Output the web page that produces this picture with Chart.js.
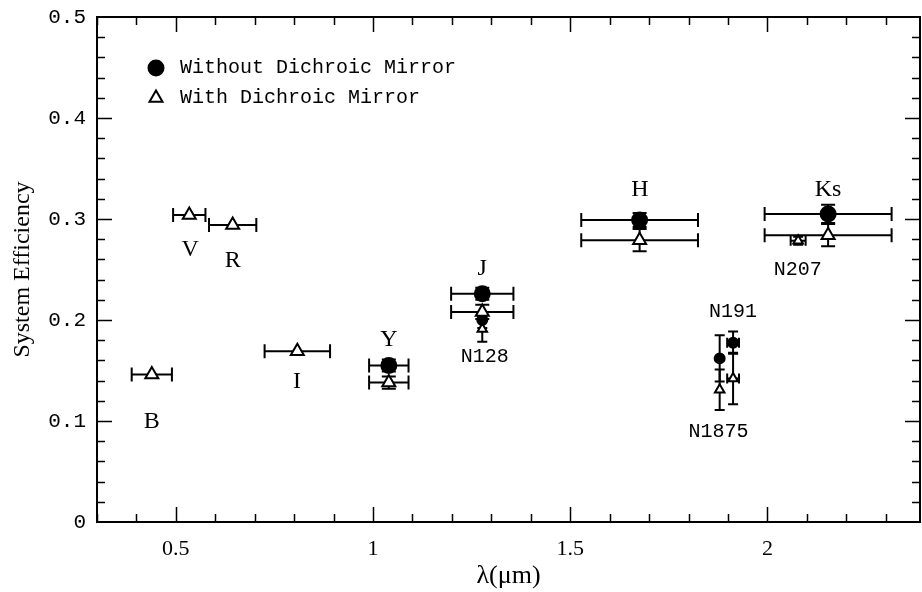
<!DOCTYPE html>
<html>
<head>
<meta charset="utf-8">
<script src="https://cdn.jsdelivr.net/npm/chart.js@4.4.1/dist/chart.umd.min.js"></script>
<style>
  html, body { margin: 0; padding: 0; background: #fff; }
  #wrap { width: 922px; height: 592px; }
</style>
</head>
<body>
<div id="wrap"><canvas id="c"></canvas></div>
<script>
// broad-band filters
const bandNames     = ['B', 'V', 'R', 'I', 'Y', 'J', 'H', 'Ks'];
const bandWave      = [0.439, 0.534, 0.644, 0.808, 1.040, 1.277, 1.676, 2.154];
const bandHalfWidth = [0.051, 0.041, 0.060, 0.083, 0.050, 0.079, 0.148, 0.161];
const withoutEff    = [null, null, null, null, 0.155, 0.226, 0.299, 0.305];
const withoutErr    = [0, 0, 0, 0, 0.006, 0.006, 0.007, 0.009];
const withEff       = [0.146, 0.304, 0.294, 0.169, 0.138, 0.208, 0.279, 0.284];
const withErr       = [0, 0, 0, 0, 0.006, 0.007, 0.011, 0.011];

// narrow-band filters
const narrowNames      = ['N128', 'N1875', 'N191', 'N207'];
const narrowWave       = [1.277, 1.879, 1.913, 2.078];
const narrowHalfWidth  = [0, 0, 0.015, 0.019];
const narrowWithoutEff = [0.200, 0.162, 0.1775, null];
const narrowWithoutErr = [0.008, 0.023, 0.011, 0];
const narrowWithEff    = [0.191, 0.131, 0.142, 0.2785];
const narrowWithErr    = [0.0125, 0.020, 0.0255, 0.004];

// filter name annotations (data coordinates)
const labelText = ['B', 'V', 'R', 'I', 'Y', 'J', 'H', 'Ks', 'N128', 'N1875', 'N191', 'N207'];
const labelX    = [0.439, 0.536, 0.644, 0.807, 1.040, 1.277, 1.677, 2.154, 1.283, 1.876, 1.913, 2.077];
const labelY    = [0.099, 0.270, 0.259, 0.139, 0.180, 0.251, 0.329, 0.329, 0.164, 0.089, 0.208, 0.2495];

const xTicks = [0.5, 1, 1.5, 2];
const yTicks = [0, 0.1, 0.2, 0.3, 0.4, 0.5];

const SERIF = '"Liberation Serif", "DejaVu Serif", serif';
const MONO = '"Liberation Mono", "DejaVu Sans Mono", monospace';

function points(xs, ys) {
  return xs.map((x, i) => ({ x, y: ys[i] })).filter(p => p.y != null);
}
// keep the error arrays aligned with the points that survive the null filter
function keep(ys, arr) {
  return arr.filter((_, i) => ys[i] != null);
}

const errorBars = {
  id: 'errorBars',
  beforeDatasetsDraw(chart) {
    const { ctx, scales: { x, y } } = chart;
    ctx.save();
    ctx.strokeStyle = '#000';
    ctx.lineWidth = 2;
    chart.data.datasets.forEach(ds => {
      const cap = ds.capSize;
      ds.data.forEach((p, i) => {
        const px = x.getPixelForValue(p.x);
        const py = y.getPixelForValue(p.y);
        const hw = ds.xErr[i];
        const ye = ds.yErr[i];
        ctx.beginPath();
        if (hw > 0) {
          const x0 = x.getPixelForValue(p.x - hw), x1 = x.getPixelForValue(p.x + hw);
          ctx.moveTo(x0, py); ctx.lineTo(x1, py);
          ctx.moveTo(x0, py - cap); ctx.lineTo(x0, py + cap);
          ctx.moveTo(x1, py - cap); ctx.lineTo(x1, py + cap);
        }
        if (ye > 0) {
          const y0 = y.getPixelForValue(p.y - ye), y1 = y.getPixelForValue(p.y + ye);
          ctx.moveTo(px, y0); ctx.lineTo(px, y1);
          ctx.moveTo(px - cap, y0); ctx.lineTo(px + cap, y0);
          ctx.moveTo(px - cap, y1); ctx.lineTo(px + cap, y1);
        }
        ctx.stroke();
      });
    });
    ctx.restore();
  }
};

// box, inward ticks on all four sides, filter names and legend
const frame = {
  id: 'frame',
  afterDraw(chart) {
    const { ctx, chartArea: a, scales: { x, y } } = chart;
    ctx.save();
    ctx.strokeStyle = '#000';
    ctx.lineWidth = 2;
    ctx.strokeRect(a.left, a.top, a.right - a.left, a.bottom - a.top);
    ctx.lineWidth = 1.5;
    ctx.beginPath();
    for (let k = 3; k <= 23; k++) {
      const len = k % 5 === 0 ? 15 : 8;
      const px = Math.round(x.getPixelForValue(k / 10)) + 0.5;
      ctx.moveTo(px, a.bottom); ctx.lineTo(px, a.bottom - len);
      ctx.moveTo(px, a.top); ctx.lineTo(px, a.top + len);
    }
    for (let k = 1; k < 25; k++) {
      const len = k % 5 === 0 ? 15 : 8;
      const py = Math.round(y.getPixelForValue(k / 50)) + 0.5;
      ctx.moveTo(a.left, py); ctx.lineTo(a.left + len, py);
      ctx.moveTo(a.right, py); ctx.lineTo(a.right - len, py);
    }
    ctx.stroke();

    ctx.fillStyle = '#000';
    ctx.textAlign = 'center';
    ctx.textBaseline = 'middle';
    labelText.forEach((t, i) => {
      ctx.font = t.startsWith('N') ? '20px ' + MONO : '24px ' + SERIF;
      ctx.fillText(t, x.getPixelForValue(labelX[i]), y.getPixelForValue(labelY[i]));
    });

    // legend
    const ds = chart.data.datasets;
    ctx.textAlign = 'left';
    [[ds[0], 68], [ds[1], 98]].forEach(([d, py]) => {
      ctx.fillStyle = d.pointBackgroundColor;
      ctx.strokeStyle = '#000';
      ctx.lineWidth = 2;
      Chart.helpers.drawPoint(ctx, {
        pointStyle: d.pointStyle, radius: d.pointRadius, borderWidth: 2
      }, 156, py);
      ctx.fillStyle = '#000';
      ctx.font = '20px ' + MONO;
      ctx.fillText(d.label, 180, py);
    });
    ctx.restore();
  }
};

const marker = (style, r, fill) => ({
  type: 'scatter', showLine: false, pointStyle: style, pointRadius: r, pointHoverRadius: r,
  pointBackgroundColor: fill, pointBorderColor: '#000', pointBorderWidth: 2
});

new Chart(document.getElementById('c'), {
  type: 'scatter',
  data: {
    datasets: [
      Object.assign(marker('circle', 7.5, '#000'), {
        label: 'Without Dichroic Mirror',
        data: points(bandWave, withoutEff),
        xErr: keep(withoutEff, bandHalfWidth),
        yErr: keep(withoutEff, withoutErr), capSize: 7
      }),
      Object.assign(marker('triangle', 7.5, '#fff'), {
        label: 'With Dichroic Mirror',
        data: points(bandWave, withEff),
        xErr: keep(withEff, bandHalfWidth),
        yErr: keep(withEff, withErr), capSize: 7
      }),
      Object.assign(marker('circle', 5, '#000'), {
        label: 'narrow without',
        data: points(narrowWave, narrowWithoutEff),
        xErr: keep(narrowWithoutEff, narrowHalfWidth),
        yErr: keep(narrowWithoutEff, narrowWithoutErr), capSize: 5
      }),
      Object.assign(marker('triangle', 5.5, '#fff'), {
        label: 'narrow with',
        data: points(narrowWave, narrowWithEff),
        xErr: keep(narrowWithEff, narrowHalfWidth),
        yErr: keep(narrowWithEff, narrowWithErr), capSize: 5
      })
    ]
  },
  options: {
    responsive: true,
    maintainAspectRatio: false,
    animation: false,
    layout: { autoPadding: false, padding: { top: 17, right: 2, left: 0, bottom: 0 } },
    plugins: { legend: { display: false }, tooltip: { enabled: false } },
    scales: {
      x: {
        type: 'linear', min: 0.3, max: 2.387,
        afterBuildTicks: s => { s.ticks = xTicks.map(value => ({ value })); },
        afterFit: s => { s.height = 70; s.paddingLeft = 0; s.paddingRight = 0; },
        grid: { display: false, drawTicks: false },
        border: { display: false },
        ticks: {
          color: '#000', padding: 14, font: { family: SERIF, size: 22 },
          callback: v => String(v)
        },
        title: {
          display: true, text: 'λ(μm)', color: '#000',
          font: { family: SERIF, size: 26 }, padding: { top: 0, bottom: 0 }
        }
      },
      y: {
        type: 'linear', min: 0, max: 0.5,
        afterBuildTicks: s => { s.ticks = yTicks.map(value => ({ value })); },
        afterFit: s => { s.width = 97; s.paddingTop = 0; s.paddingBottom = 0; },
        grid: { display: false, drawTicks: false },
        border: { display: false },
        ticks: {
          color: '#000', padding: 11, font: { family: MONO, size: 21 },
          callback: v => (v === 0 ? '0' : v.toFixed(1))
        },
        title: {
          display: true, text: 'System Efficiency', color: '#000',
          font: { family: SERIF, size: 24 }, padding: { top: 8, bottom: 0 }
        }
      }
    }
  },
  plugins: [errorBars, frame]
});
</script>
</body>
</html>
